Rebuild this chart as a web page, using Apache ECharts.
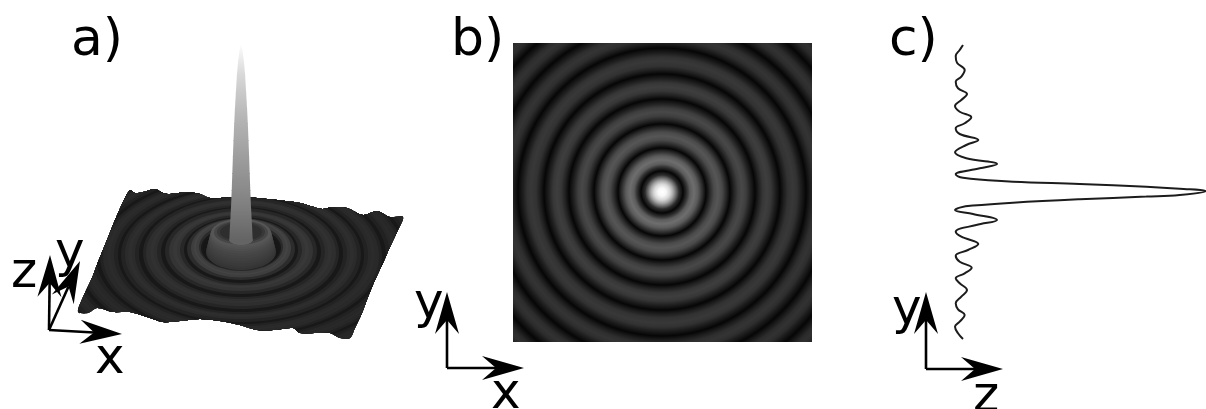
<!DOCTYPE html>
<html><head><meta charset="utf-8">
<style>html,body{margin:0;padding:0;background:#fff}#c{width:1206px;height:409px;filter:blur(0.45px)}</style>
<script src="https://cdn.jsdelivr.net/npm/echarts@6/dist/echarts.min.js"></script>
</head><body><div id="c"></div>
<script>
// Panel a: surface outline
const outlineX=[130,135,143,155,163,170,187,200,210,240,267,300,322,333,347,363,377,390,403,398,390,383,375,368,362,355,350,340,330,317,300,293,273,257,240,220,200,180,163,147,130,113,97,88,78,83,92,98,107,115,123];
const outlineY=[190,193,192,189,193,194,192,194,198,197,199,203,209,207,208,215,211,217,217,230,247,263,280,297,313,328,338,338,333,333,333,328,330,330,325,321,319,321,322,317,312,312,308,313,312,297,278,262,240,220,202];
// Panel a: rings, outermost first
const ringRx=[190,186,182,178,174,171,167,163,160,156,152,149,145,141,138,134,130,127,123,120,116,113,109,106,102,98,95,91,87,84,80,76,72,68,64,61,57,54,50,47,45,42,40,38,35,34.5,34,33.5,33,32.5,32,31.5,31,30.5,30,27,24,21,11.7];
const ringCy=[258,258,258,258,258,257,257,257,257,257,257,256,256,256,256,255,255,255,255,255,254,254,254,254,254,253,253,252,252,252,252,251,251,250,250,250,250,249,248,247,247,247,248,248,252,250,248,246,244,242,240,238,236,234.5,233,232.5,232,232,240];
const ringRy=[107,105,102,100,98,95,93,91,89,87,85,83,81,79,77,75,73,71,69,67,65,63,61,60,58,56,53,51,49,47,45,43,40,38,36,35,33,31,29.5,28,26.5,24,22,20,18,18,18,17.5,17,16.5,16,15.5,15,14.5,14,12,10.5,9,5];
const ringGray=[24,32,38,40,38,32,24,33,39,41,39,33,24,34,41,43,41,34,24,35,43,46,43,35,24,37,46,49,46,37,24,39,52,56,52,39,24,44,62,68,62,42,24,22,52,55,58,61,64,67,70,74,78,82,86,70,56,46,100];
// Panel a: central spike
const spikeY=[240,225,207,190,173,156,140,123,107,90,73,60,50,45];
const spikeHalf=[11.7,11,10,9.3,8.7,8.1,7.5,6.8,6,5,4,2.8,1.5,0.4];
const spikeGray=[100,112,126,138,148,158,168,178,190,203,218,234,246,253];
// Panel b: radial brightness profile
const profileR=[0,4,8,11,14,17,21,25,28,32,36,40,44,48,52,56,60,64,68,72,76,80,84,88,93,97,101,105,109,113,118,122,126,131,135,139,144,148,152,156,160,164,169,173,177,181,185,189,194,198,202,206,212];
const profileGray=[255,248,215,170,110,45,6,50,92,110,92,50,6,42,74,86,74,42,6,36,62,72,62,36,6,33,55,62,55,33,6,30,50,56,50,30,6,28,46,52,46,28,6,26,44,50,44,26,6,24,42,48,36];
// Panel c: line profile
const lineZ=[8,4.7,0.7,2,9.7,6.3,0.7,3,12,6.3,0,4.7,16.3,9.7,0.7,4.7,23.3,11.3,0,11.3,42,24.7,0.7,3,8,24,58,124.7,191.3,224.7,251,224.7,191.3,124.7,58,18,4.7,0,18,42,21.3,0.7,6.3,23.3,13,0.7,4.7,16.7,9.7,0.7,4.7,12,6.3,0.7,3,9.7,4.7,0,3,8];
const lineV=[147,142,136,129.3,122,115.3,110.3,103.7,98,92,86,80.3,74.7,68.7,63.7,58,52,47,39.7,33.7,28,23.7,17.7,15.7,14.3,12.5,10.3,8,5.3,3.3,1,-3,-4.6,-7.3,-10.7,-13.6,-15.6,-18,-22,-28,-33,-39.7,-44.7,-52,-58,-63.7,-69.7,-75.7,-81.3,-86.3,-91.3,-98,-104.7,-111.3,-117.3,-123,-129.7,-134.7,-141.3,-147];

const gr=v=>{v=Math.round(v);return 'rgb('+v+','+v+','+v+')'};
const pick=(a,b)=>a.map((v,i)=>[v,b[i]]);
const surfaceCx=241;

const ringData=ringRx.map((r,i)=>[r,ringCy[i],ringRy[i],ringGray[i]]);
const spikeData=spikeY.slice(0,-1).map((y,i)=>[spikeHalf[i],y,spikeHalf[i+1],spikeY[i+1],spikeGray[i],spikeGray[i+1]]);
const profileData=profileR.slice(1).map((r,i)=>[r,profileR[i],profileGray[i],profileGray[i+1]]).reverse();

function ringItem(p,api){
  const c=api.coord([surfaceCx,api.value(1)]);
  const s=api.size([api.value(0),api.value(2)]);
  const pts=outlineX.map((x,i)=>api.coord([x,outlineY[i]]));
  return {type:'ellipse',shape:{cx:c[0],cy:c[1],rx:s[0],ry:s[1]},style:{fill:gr(api.value(3))},
    clipPath:{type:'polygon',shape:{points:pts,smooth:0.3}}};
}
function outlineItem(p,api){
  const pts=outlineX.map((x,i)=>api.coord([x,outlineY[i]]));
  return {type:'polygon',shape:{points:pts,smooth:0.3},style:{fill:'#1c1c1c'}};
}
function spikeItem(p,api){
  const a=api.coord([surfaceCx,api.value(1)]),b=api.coord([surfaceCx,api.value(3)]);
  const w0=api.size([api.value(0),0])[0],w1=api.size([api.value(2),0])[0];
  return {type:'polygon',shape:{points:[[a[0]-w0,a[1]+1],[a[0]+w0,a[1]+1],[b[0]+w1,b[1]],[b[0]-w1,b[1]]]},
    style:{fill:new echarts.graphic.LinearGradient(0,a[1],0,b[1],[{offset:0,color:gr(api.value(4))},{offset:1,color:gr(api.value(5))}],true)}};
}
function discItem(p,api){
  const c=api.coord([0,0]);
  const r=api.size([api.value(0),0])[0],r0=api.size([api.value(1),0])[0];
  return {type:'circle',shape:{cx:c[0],cy:c[1],r:r},
    style:{fill:new echarts.graphic.RadialGradient(c[0],c[1],r,[{offset:r0/r,color:gr(api.value(2))},{offset:1,color:gr(api.value(3))}],true)}};
}
const arrows=[[49,330,50,255],[49,330,122,334],[49,330,80,261],[447,368,447,292],[447,368,524,368],[926,369,926,292],[926,369,1003,369]];
function arrowItem(p,api){
  const a=api.coord([api.value(0),api.value(1)]),b=api.coord([api.value(2),api.value(3)]);
  const dx=b[0]-a[0],dy=b[1]-a[1],L=Math.hypot(dx,dy),ux=dx/L,uy=dy/L,nx=-uy,ny=ux;
  const at=(d,w)=>[b[0]-ux*d+nx*w,b[1]-uy*d+ny*w];
  return {type:'group',children:[
    {type:'line',shape:{x1:a[0],y1:a[1],x2:b[0]-ux*28,y2:b[1]-uy*28},style:{stroke:'#000',lineWidth:2.6}},
    {type:'polygon',shape:{points:[[b[0],b[1]],at(42,12),at(28,0),at(42,-12)]},style:{fill:'#000'}}
  ]};
}
const hidden={show:false};
const txt=(t,x,y,size)=>({type:'text',x:x,y:y,silent:true,style:{text:t,fill:'#000',font:size+'px "DejaVu Sans"'}});
const chart=echarts.init(document.getElementById('c'),null,{renderer:'canvas'});
chart.setOption({
  animation:false,backgroundColor:'#fff',
  grid:[
    {left:0,top:0,width:1206,height:409},
    {left:513,top:43,width:299,height:299},
    {left:950,top:40,width:256,height:305}
  ],
  xAxis:[
    {type:'value',gridIndex:0,min:0,max:1206,...hidden},
    {type:'value',gridIndex:1,min:-149,max:150,...hidden},
    {type:'value',gridIndex:2,min:-5,max:251,...hidden}
  ],
  yAxis:[
    {type:'value',gridIndex:0,min:0,max:409,inverse:true,...hidden},
    {type:'value',gridIndex:1,min:-150,max:149,...hidden},
    {type:'value',gridIndex:2,min:-153,max:152,...hidden}
  ],
  series:[
    {type:'custom',name:'surface base',xAxisIndex:0,yAxisIndex:0,data:[[0,0]],renderItem:outlineItem,silent:true},
    {type:'custom',name:'surface rings',xAxisIndex:0,yAxisIndex:0,data:ringData,renderItem:ringItem,silent:true,progressive:0,encode:{x:0,y:1}},
    {type:'custom',name:'spike',xAxisIndex:0,yAxisIndex:0,data:spikeData,renderItem:spikeItem,silent:true,progressive:0,encode:{x:0,y:1}},
    {type:'custom',name:'top view',xAxisIndex:1,yAxisIndex:1,data:profileData,renderItem:discItem,silent:true,clip:true,progressive:0,encode:{x:0,y:1}},
    {type:'line',name:'profile',xAxisIndex:2,yAxisIndex:2,data:pick(lineZ,lineV),smooth:0.4,showSymbol:false,clip:true,
      lineStyle:{color:'#1c1c1c',width:2},silent:true},
    {type:'custom',name:'axes arrows',xAxisIndex:0,yAxisIndex:0,data:arrows,renderItem:arrowItem,silent:true,progressive:0,encode:{x:0,y:1}}
  ],
  graphic:{elements:[
    txt('a)',71,15,52),txt('b)',451,15,52),txt('c)',889,15,52),
    txt('z',11,249,50),txt('y',55,229,50),txt('x',95,335,50),
    txt('y',414,280,50),txt('x',491,370,50),
    txt('y',892,286,50),txt('z',973,373,50)
  ]}
});
</script></body></html>
